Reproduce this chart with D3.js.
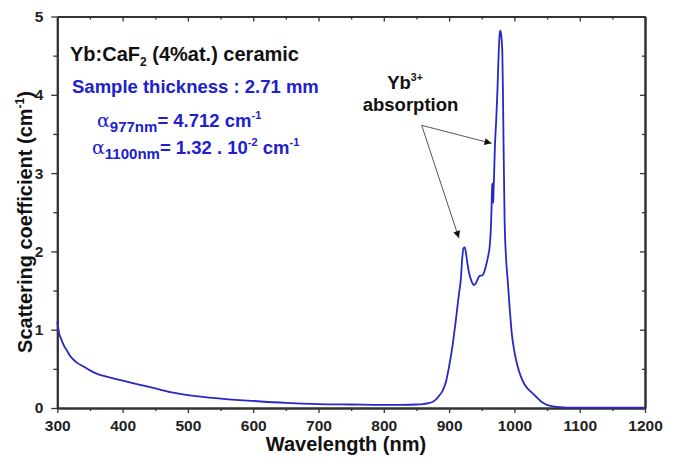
<!DOCTYPE html>
<html>
<head>
<meta charset="utf-8">
<script src="https://cdn.jsdelivr.net/npm/d3@7"></script>
<style>
  html, body { margin: 0; padding: 0; background: #fff; }
  svg { display: block; font-family: "Liberation Sans", Arial, sans-serif; }
</style>
</head>
<body>
<svg id="chart" width="675" height="460"></svg>
<script>
// ---- data ----
const wavelengths = [300,303,306,310,315,320,330,340,350,360,380,400,425,450,475,500,550,600,650,700,750,800,830,850,860,870,875,880,885,890,895,900,905,910,915,918,920,922,924,926,928,930,933,936,938,940,943,946,948,950,953,956,958,960,962,964,965,966,967,967.5,968,969,970,972,974,976,977.5,978.5,980,981.5,982.5,983.5,985,987,990,993,996,1000,1005,1010,1015,1020,1025,1030,1035,1040,1045,1050,1060,1070,1080,1100,1150,1200];
const coefficients = [1.10,0.95,0.88,0.80,0.73,0.66,0.58,0.53,0.48,0.44,0.39,0.35,0.30,0.25,0.20,0.165,0.12,0.09,0.065,0.05,0.045,0.04,0.04,0.045,0.05,0.065,0.08,0.11,0.16,0.22,0.33,0.53,0.78,1.1,1.45,1.65,1.9,2.04,2.05,1.97,1.85,1.75,1.65,1.59,1.57,1.58,1.63,1.68,1.69,1.69,1.72,1.8,1.87,1.95,2.05,2.3,2.55,2.85,2.87,2.62,2.75,3.0,3.3,3.65,4.05,4.55,4.78,4.82,4.75,4.55,4.0,3.3,2.4,1.95,1.6,1.25,0.95,0.72,0.53,0.40,0.31,0.25,0.21,0.17,0.13,0.09,0.06,0.04,0.02,0.01,0.006,0.005,0.004,0.004];
const xTickValues = [300,400,500,600,700,800,900,1000,1100,1200];
const xMinorValues = [350,450,550,650,750,850,950,1050,1150];
const yTickValues = [0,1,2,3,4,5];
const yMinorValues = [0.5,1.5,2.5,3.5,4.5];
// annotation anchor points (wavelength, coefficient)
const arrowStart = [858, 3.61];
const arrowEnds = [[965, 3.38], [915, 2.17]];

const svg = d3.select("#chart");
const W = 675, H = 460;
svg.append("rect").attr("width", W).attr("height", H).attr("fill", "#fff");

const x = d3.scaleLinear().domain([300, 1200]).range([57.3, 645]);
const y = d3.scaleLinear().domain([0, 5]).range([408, 16.5]);

const axisColor = "#333";
const FF = "'Liberation Sans', Arial, sans-serif";
const tickFont = `bold 15.5px ${FF}`;

function styleAxis(g) {
  g.selectAll(".domain").attr("stroke", axisColor).attr("stroke-width", 2);
  g.selectAll(".tick line").attr("stroke", axisColor).attr("stroke-width", 1.3);
  g.selectAll(".tick text").attr("fill", "#222").style("font", tickFont);
}

// bottom axis (outward ticks)
svg.append("g").attr("transform", `translate(0,${y(0)})`)
  .call(d3.axisBottom(x).tickValues(xMinorValues).tickSize(3).tickFormat("").tickSizeOuter(0))
  .call(styleAxis);
svg.append("g").attr("transform", `translate(0,${y(0)})`)
  .call(d3.axisBottom(x).tickValues(xTickValues).tickSize(5).tickPadding(7).tickSizeOuter(0).tickFormat(d3.format("d")))
  .call(styleAxis);
// top axis (inward ticks)
svg.append("g").attr("transform", `translate(0,${y(5)})`)
  .call(d3.axisTop(x).tickValues(xMinorValues).tickSize(-3).tickFormat("").tickSizeOuter(0))
  .call(styleAxis);
svg.append("g").attr("transform", `translate(0,${y(5)})`)
  .call(d3.axisTop(x).tickValues(xTickValues).tickSize(-5).tickFormat("").tickSizeOuter(0))
  .call(styleAxis);
// left axis (outward ticks)
svg.append("g").attr("transform", `translate(${x(300)},0)`)
  .call(d3.axisLeft(y).tickValues(yMinorValues).tickSize(4).tickFormat("").tickSizeOuter(0))
  .call(styleAxis);
svg.append("g").attr("transform", `translate(${x(300)},0)`)
  .call(d3.axisLeft(y).tickValues(yTickValues).tickSize(6).tickPadding(8).tickSizeOuter(0).tickFormat(d3.format("d")))
  .call(styleAxis);
// right axis (inward ticks)
svg.append("g").attr("transform", `translate(${x(1200)},0)`)
  .call(d3.axisRight(y).tickValues(yMinorValues).tickSize(-3).tickFormat("").tickSizeOuter(0))
  .call(styleAxis);
svg.append("g").attr("transform", `translate(${x(1200)},0)`)
  .call(d3.axisRight(y).tickValues(yTickValues).tickSize(-5).tickFormat("").tickSizeOuter(0))
  .call(styleAxis);

// data line
const data = wavelengths.map((w, i) => ({ w, v: coefficients[i] }));
svg.append("path")
  .datum(data)
  .attr("fill", "none")
  .attr("stroke", "#2828c4")
  .attr("stroke-width", 1.8)
  .attr("stroke-linejoin", "round")
  .attr("d", d3.line().x(d => x(d.w)).y(d => y(d.v)).curve(d3.curveMonotoneX));

// axis titles
svg.append("text")
  .attr("x", 346).attr("y", 451)
  .attr("text-anchor", "middle")
  .attr("fill", "#111")
  .style("font", `bold 20px ${FF}`)
  .text("Wavelength (nm)");

const yt = svg.append("text")
  .attr("transform", "translate(32,222) rotate(-90)")
  .attr("text-anchor", "middle")
  .attr("fill", "#111")
  .style("font", `bold 20px ${FF}`);
yt.append("tspan").text("Scattering coefficient (cm");
yt.append("tspan").attr("dy", -8).style("font-size", "12px").text("-1");
yt.append("tspan").attr("dy", 8).text(")");

// annotations (top-left)
const blue = "#2020cc";
const t1 = svg.append("text").attr("x", 70).attr("y", 61).attr("fill", "#111")
  .style("font", `bold 20px ${FF}`);
t1.append("tspan").text("Yb:CaF");
t1.append("tspan").attr("dy", 5).style("font-size", "12px").text("2");
t1.append("tspan").attr("dy", -5).text(" (4%at.) ceramic");

svg.append("text").attr("x", 72).attr("y", 93).attr("fill", blue)
  .style("font", `bold 18.5px ${FF}`)
  .text("Sample thickness : 2.71 mm");

const a1 = svg.append("text").attr("x", 97).attr("y", 127).attr("fill", blue)
  .style("font", `bold 18.5px ${FF}`);
a1.append("tspan").style("font-weight", "normal").style("font-family", "'DejaVu Serif', serif").style("font-size", "19px").text("α");
a1.append("tspan").attr("dy", 5).style("font-size", "15px").text("977nm");
a1.append("tspan").attr("dy", -5).text("= 4.712 cm");
a1.append("tspan").attr("dy", -8).style("font-size", "11px").text("-1");

const a2 = svg.append("text").attr("x", 92).attr("y", 154).attr("fill", blue)
  .style("font", `bold 18.5px ${FF}`);
a2.append("tspan").style("font-weight", "normal").style("font-family", "'DejaVu Serif', serif").style("font-size", "19px").text("α");
a2.append("tspan").attr("dy", 5).style("font-size", "15px").text("1100nm");
a2.append("tspan").attr("dy", -5).text("= 1.32 . 10");
a2.append("tspan").attr("dy", -8).style("font-size", "11px").text("-2");
a2.append("tspan").attr("dy", 8).text(" cm");
a2.append("tspan").attr("dy", -8).style("font-size", "11px").text("-1");

// Yb3+ absorption label
const yb = svg.append("text").attr("x", 405).attr("y", 89).attr("text-anchor", "middle").attr("fill", "#111")
  .style("font", `bold 18.5px ${FF}`);
yb.append("tspan").text("Yb");
yb.append("tspan").attr("dy", -8).style("font-size", "10.5px").text("3+");
svg.append("text").attr("x", 410.5).attr("y", 111).attr("text-anchor", "middle").attr("fill", "#111")
  .style("font", `bold 18.5px ${FF}`)
  .text("absorption");

// arrows
const defs = svg.append("defs");
defs.append("marker").attr("id", "ah").attr("viewBox", "0 0 10 10")
  .attr("refX", 10).attr("refY", 5).attr("markerWidth", 11).attr("markerHeight", 7)
  .attr("markerUnits", "userSpaceOnUse").attr("orient", "auto")
  .append("path").attr("d", "M0,0 L10,5 L0,10 z").attr("fill", "#111");
arrowEnds.forEach(e => {
  svg.append("line")
    .attr("x1", x(arrowStart[0])).attr("y1", y(arrowStart[1]))
    .attr("x2", x(e[0])).attr("y2", y(e[1]))
    .attr("stroke", "#555").attr("stroke-width", 1)
    .attr("marker-end", "url(#ah)");
});
</script>
</body>
</html>
